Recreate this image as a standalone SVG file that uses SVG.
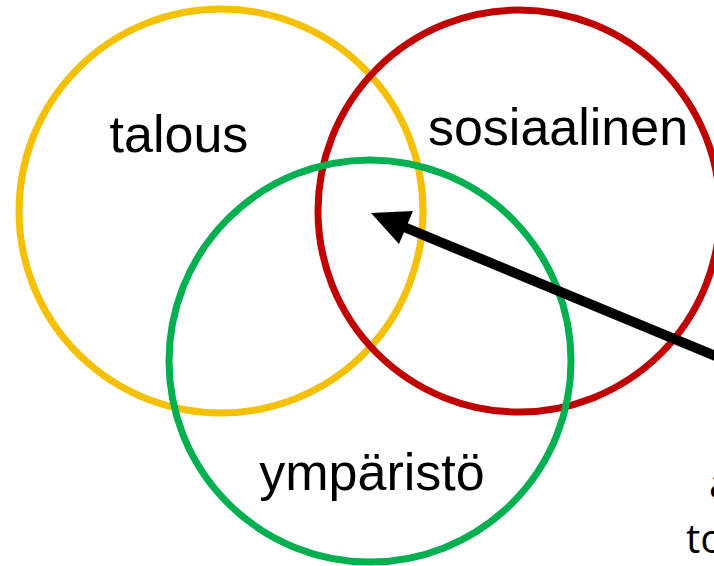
<svg xmlns="http://www.w3.org/2000/svg" width="714" height="566" viewBox="0 0 714 566">
<style>
.c{fill:none;stroke-width:7}
.t{font-family:"Liberation Sans",Arial,sans-serif;font-size:52px;fill:#000}
</style>
<rect width="714" height="566" fill="#fff"/>
<g id="talous"><circle class="c" cx="221" cy="211" r="202" stroke="#F5C000"/><text class="t" x="179" y="152" text-anchor="middle">talous</text></g>
<g id="sosiaalinen"><circle class="c" cx="519" cy="211" r="201" stroke="#C00000"/><text class="t" x="558" y="145" text-anchor="middle">sosiaalinen</text></g>
<g id="ymparisto"><circle class="c" cx="370" cy="361" r="201" stroke="#00B050"/><text class="t" x="372" y="490" text-anchor="middle">ympäristö</text></g>
<g id="connectors">
<line x1="730" y1="362" x2="404" y2="227" stroke="#000" stroke-width="10"/>
<polygon points="371,213 413,211 399,244" fill="#000"/>
</g>
<g id="label"><text font-family="'Open Sans',sans-serif" font-size="40" x="709" y="498">a</text><text font-family="'Open Sans',sans-serif" font-size="40" x="686" y="553">to</text></g>
</svg>
